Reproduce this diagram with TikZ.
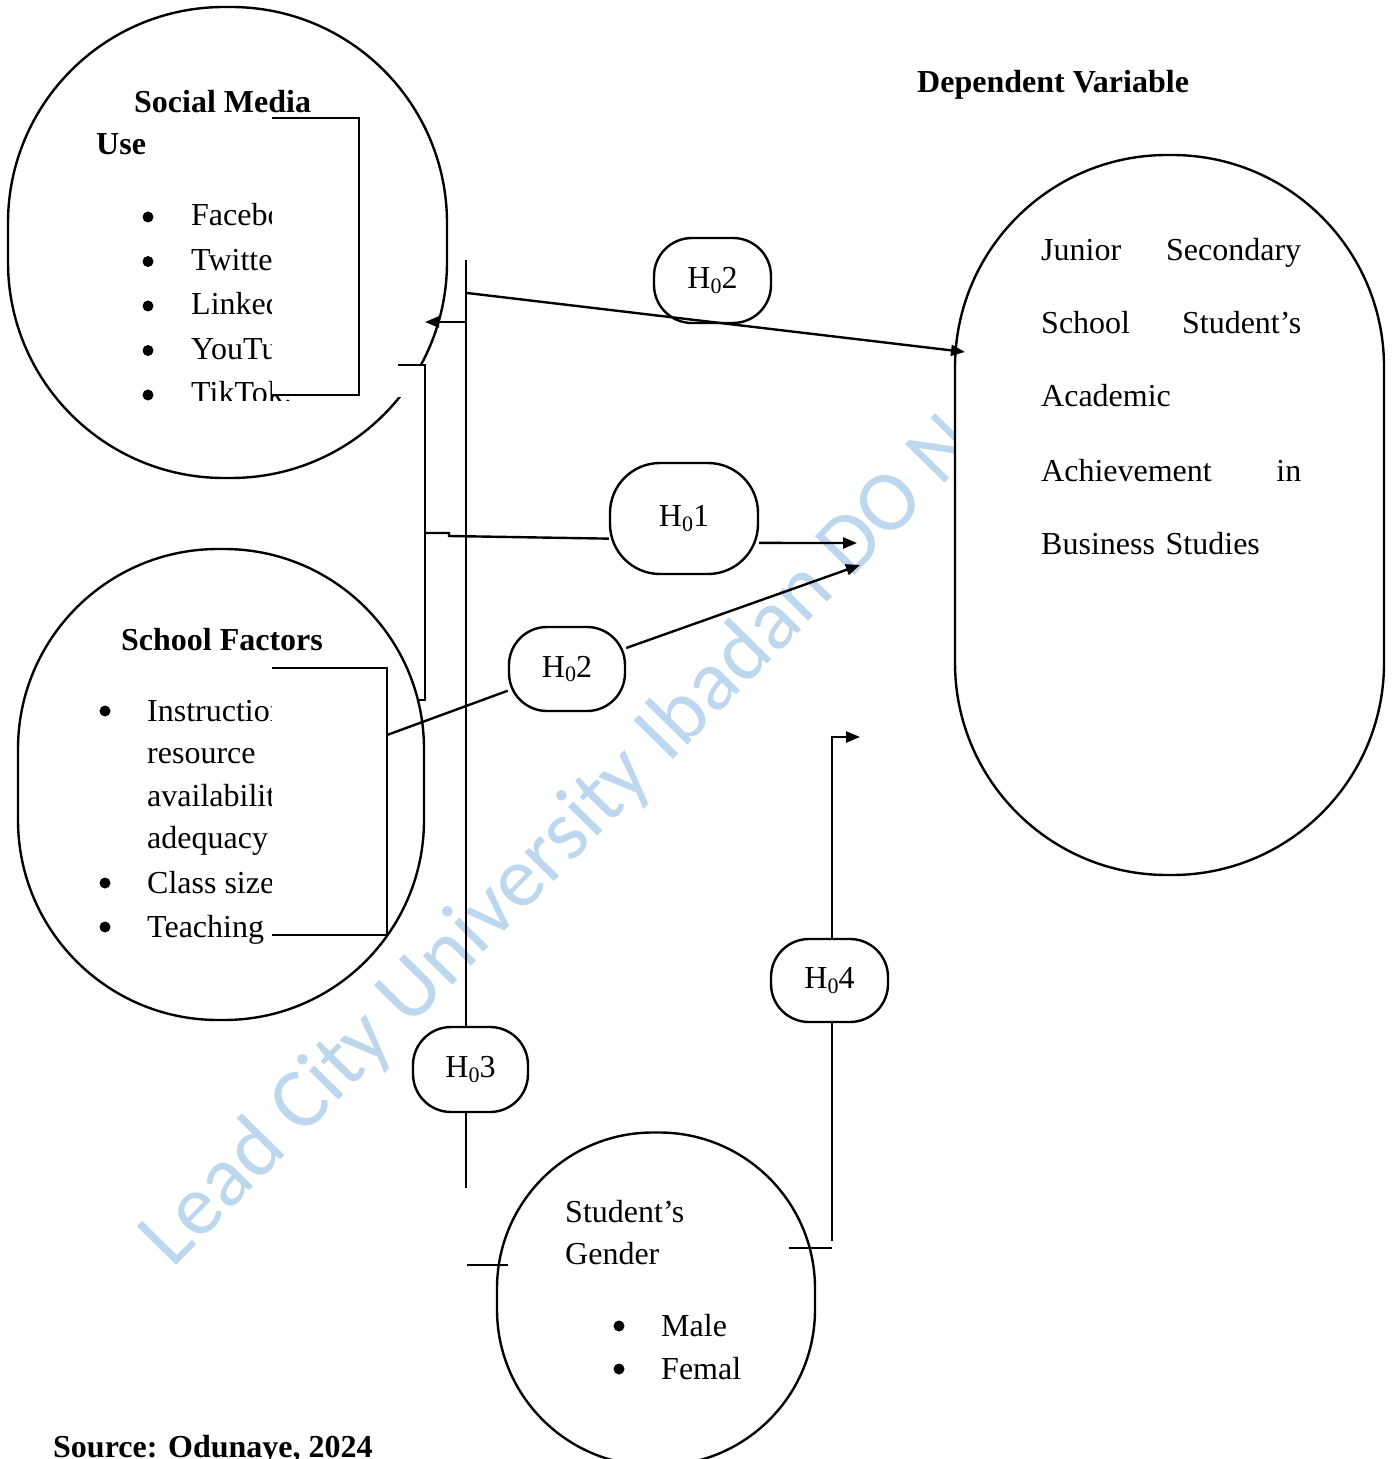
\documentclass[tikz,border=0pt]{standalone}
\usepackage{fontspec}
\setmainfont{Liberation Serif}
\newfontfamily\wmfont{Carlito}
\usetikzlibrary{arrows.meta,positioning}
\definecolor{wmblue}{RGB}{189,215,238}
\newcommand{\hyp}[1]{H\raisebox{-0.3ex}{\fontsize{11}{11}\selectfont 0}#1}

\begin{document}
\begin{tikzpicture}[x=0.5pt, y=-0.5pt,
  font=\fontsize{16}{19}\selectfont,
  line width=1.2pt,
  blob/.style={draw, fill=white, rounded corners=#1, inner sep=0pt},
  hypo/.style={draw, fill=white, rounded corners=#1, inner sep=0pt},
  listtext/.style={anchor=base west, inner sep=0pt},
  bul/.style={circle, fill, inner sep=0pt, minimum size=5.5pt, line width=0pt},
  arr/.style={-{Triangle[length=7pt,width=5.5pt]}}
]
\useasboundingbox (0,0) rectangle (1391,1459);

\node[rotate=45.5, anchor=base west, inner sep=0pt, text=wmblue, font=\wmfont\fontsize{43}{43}\selectfont] (wm) at (172,1270) {Lead City University Ibadan DO N};

\node[blob=108pt, minimum width=219.5pt, minimum height=235.5pt] (social) at (227.5,242.5) {};
\node[blob=100pt, minimum width=203pt, minimum height=235.5pt] (school) at (221,784.5) {};
\node[blob=78pt, minimum width=159pt, minimum height=166.5pt] (gender) at (656,1299) {};
\node[blob=106pt, minimum width=214.5pt, minimum height=360pt] (depvar) at (1169.5,515) {};

\node[listtext] (smh) at (133,113) {\textbf{Social Media}};
\node[listtext] (smu) at (95,155) {\textbf{Use}};
\begin{scope}
  \clip (0,0) rectangle (447,401);
  \foreach \txt [count=\i] in {Facebo, Twitte, Linked, YouTu, TikTok.} {
    \node[bul] at (148,{226+44.5*(\i-1)-9}) {};
    \node[listtext] (sm\i) at (190,{226+44.5*(\i-1)}) {\txt};
  }
\end{scope}
\fill[white] (272,118) rectangle (359,395);
\draw (272,118) -- (359,118) -- (359,395) -- (272,395);

\fill[white] (396,366) rectangle (425,397);
\draw (398,365) -- (425,365) -- (425,700) -- (417,700);

\node[listtext, anchor=base] (sfh) at (222,650) {\textbf{School Factors}};
\foreach \txt/\y in {Instruction/721, resource/763, availabilit/806, adequacy/848, Class size/893, Teaching/937}
  \node[listtext] at (146,\y) {\txt};
\foreach \y in {711, 883, 927}
  \node[bul] at (105,\y) {};
\fill[white] (272,668) rectangle (387,932);
\draw (272,668) -- (387,668) -- (387,935) -- (272,935);

\node[listtext] (gh1) at (564,1222) {Student’s};
\node[listtext] (gh2) at (564,1264) {Gender};
\node[bul] at (619,1326) {};
\node[bul] at (619,1369) {};
\node[listtext] (male) at (660,1336) {Male};
\node[listtext] (female) at (660,1379) {Femal};

\node[listtext] (dvh) at (916,93) {\textbf{Dependent Variable}};
\foreach \txt/\y in {Junior\hfill Secondary/261, School\hfill Student’s/334, Academic/407, Achievement\hfill in/481, Business Studies/554}
  \node[listtext, text width=130pt, align=left] at (1040,\y) {\txt};

\node[listtext] (src) at (52,1457) {\textbf{Source: Odunaye, 2024}};

\node[hypo=19pt, minimum width=58.5pt, minimum height=42.5pt] (h2top) at (712.5,280.5) {\hyp{2}};
\node[hypo=25pt, minimum width=74pt, minimum height=55.5pt] (h01) at (684,518.5) {\hyp{1}};
\node[hypo=19pt, minimum width=58pt, minimum height=42pt] (h2low) at (567,669) {\hyp{2}};
\node[hypo=19pt, minimum width=58.5pt, minimum height=41.5pt] (h04) at (829.5,980.5) {\hyp{4}};
\node[hypo=19pt, minimum width=57.5pt, minimum height=42.5pt] (h03) at (470.5,1069.5) {\hyp{3}};

\coordinate (vtop) at (466,260);
\coordinate (vbot) at (466,1188);
\draw (vtop) -- (vtop |- h03.north);
\draw (vtop |- h03.south) -- (vbot);

\coordinate (smin) at (425,322);
\draw[arr] (vtop |- smin) -- (smin);

\coordinate (h2start) at (467,293);
\coordinate (dvin) at (965,352);
\draw[arr] (h2start) -- (dvin);

\coordinate (bj) at (425,533);
\coordinate (t1) at (857,543);
\draw (bj) -- ++(24,0) -- ++(0,3) -- (h01.195);
\draw[arr] (h01.342) -- (t1);

\coordinate (sfout) at (387,735);
\coordinate (t2) at (860,565);
\draw (sfout) -- (h2low);
\draw[arr] (h2low) -- (t2);

\coordinate (gtl) at (467,1265);
\draw (gtl) -- ++(41,0);

\coordinate (gtr) at (832,1248);
\coordinate (t4) at (860,737);
\draw (gtr) -- ++(-43,0);
\draw (832,1241) -- (gtr |- h04.south);
\draw[arr] (gtr |- h04.north) -- (gtr |- t4) -- (t4);
\end{tikzpicture}
\end{document}
